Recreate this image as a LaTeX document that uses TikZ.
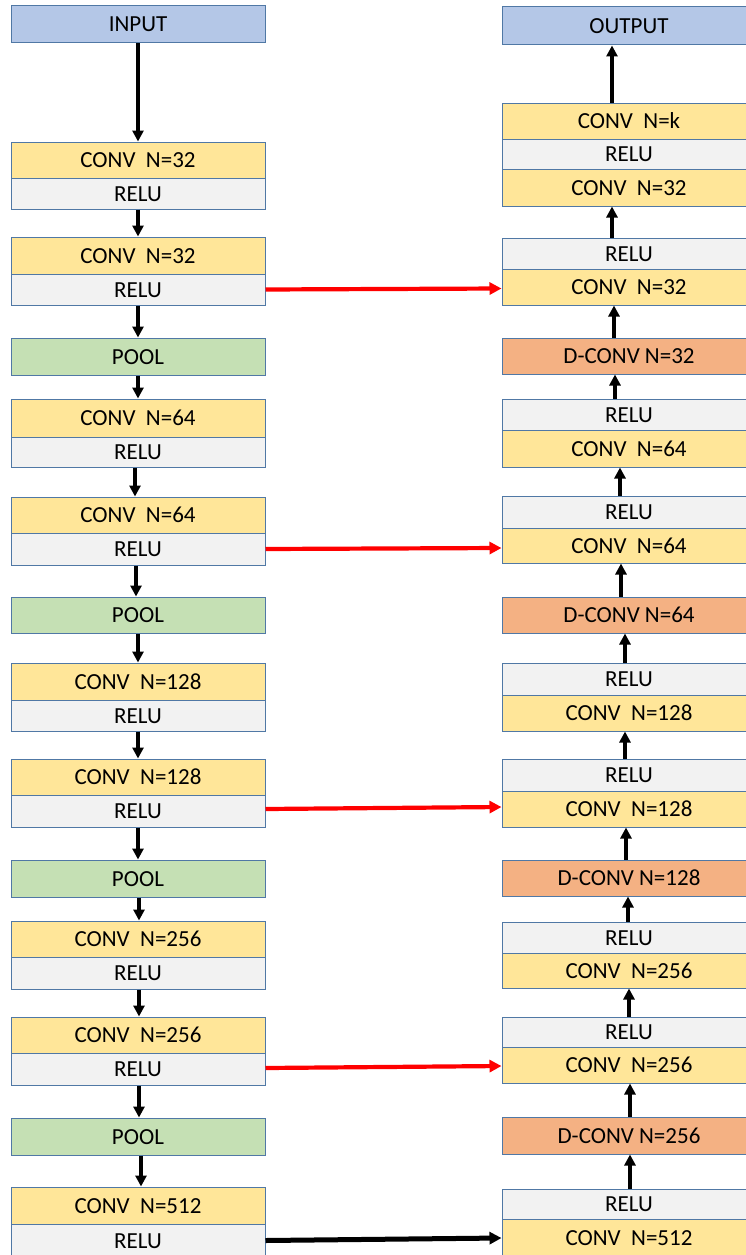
\documentclass[tikz,border=0pt]{standalone}
\usepackage{fontspec}
\setmainfont{Carlito}
\usetikzlibrary{arrows.meta}
\definecolor{bordc}{RGB}{80,120,165}
\definecolor{iofill}{RGB}{180,199,231}
\definecolor{convfill}{RGB}{255,230,153}
\definecolor{relufill}{RGB}{242,242,242}
\definecolor{poolfill}{RGB}{197,224,180}
\definecolor{dconvfill}{RGB}{244,177,131}
\tikzset{
  blk/.style={draw=bordc, line width=1pt, minimum width=254pt, inner sep=0pt,
    font=\fontsize{23}{27}\selectfont, text height=15pt, text depth=0pt},
  iobox/.style={blk, fill=iofill},
  convbox/.style={blk, fill=convfill},
  relubox/.style={blk, fill=relufill},
  poolbox/.style={blk, fill=poolfill},
  dconvbox/.style={blk, fill=dconvfill},
  flow/.style={line width=3.2pt, -{Triangle[width=11pt,length=11pt]}},
  skip/.style={line width=4.2pt, red, -{Triangle[width=12pt,length=12pt]}},
  bottomlink/.style={line width=5pt, -{Triangle[width=12pt,length=12pt]}},
}
\begin{document}
\begin{tikzpicture}[x=1pt,y=-1pt]
\clip (0,0) rectangle (746,1255);
% ---------------- left column ----------------
\node[iobox, minimum height=37pt] (in) at (138,24.5) {INPUT};
\node[convbox, minimum height=36pt] (l1c) at (138,160) {CONV\ \ N=32};
\node[relubox, minimum height=31pt] (l1r) at (138,193.5) {RELU};
\node[convbox, minimum height=37pt] (l2c) at (138,255.5) {CONV\ \ N=32};
\node[relubox, minimum height=31pt] (l2r) at (138,289.5) {RELU};
\node[poolbox, minimum height=37pt] (p1) at (138,356.5) {POOL};
\node[convbox, minimum height=38pt] (l3c) at (138,418) {CONV\ \ N=64};
\node[relubox, minimum height=30pt] (l3r) at (138,452) {RELU};
\node[convbox, minimum height=36pt] (l4c) at (138,515) {CONV\ \ N=64};
\node[relubox, minimum height=32pt] (l4r) at (138,549) {RELU};
\node[poolbox, minimum height=36pt] (p2) at (138,615) {POOL};
\node[convbox, minimum height=37pt] (l5c) at (138,681.5) {CONV\ \ N=128};
\node[relubox, minimum height=31pt] (l5r) at (138,715.5) {RELU};
\node[convbox, minimum height=36pt] (l6c) at (138,777) {CONV\ \ N=128};
\node[relubox, minimum height=32pt] (l6r) at (138,811) {RELU};
\node[poolbox, minimum height=37pt] (p3) at (138,878.5) {POOL};
\node[convbox, minimum height=36pt] (l7c) at (138,939) {CONV\ \ N=256};
\node[relubox, minimum height=32pt] (l7r) at (138,973) {RELU};
\node[convbox, minimum height=36pt] (l8c) at (138,1035) {CONV\ \ N=256};
\node[relubox, minimum height=32pt] (l8r) at (138,1069) {RELU};
\node[poolbox, minimum height=37pt] (p4) at (138,1136.5) {POOL};
\node[convbox, minimum height=37pt] (l9c) at (138,1205.5) {CONV\ \ N=512};
\node[relubox, minimum height=33pt] (l9r) at (138,1240.5) {RELU};
% ---------------- right column ----------------
\node[iobox, minimum height=38pt] (out) at (629,26) {OUTPUT};
\node[convbox, minimum height=36pt] (r1k) at (629,121) {CONV\ \ N=k};
\node[relubox, minimum height=30pt] (r1r) at (629,154) {RELU};
\node[convbox, minimum height=37pt] (r1c) at (629,187.5) {CONV\ \ N=32};
\node[relubox, minimum height=31pt] (r2r) at (629,253.5) {RELU};
\node[convbox, minimum height=36pt] (r2c) at (629,287) {CONV\ \ N=32};
\node[dconvbox, minimum height=36pt] (d1) at (629,356) {D-CONV N=32};
\node[relubox, minimum height=31pt] (r3r) at (629,414.5) {RELU};
\node[convbox, minimum height=37pt] (r3c) at (629,448.5) {CONV\ \ N=64};
\node[relubox, minimum height=32pt] (r4r) at (629,512) {RELU};
\node[convbox, minimum height=35pt] (r4c) at (629,545.5) {CONV\ \ N=64};
\node[dconvbox, minimum height=36pt] (d2) at (629,615) {D-CONV N=64};
\node[relubox, minimum height=32pt] (r5r) at (629,679) {RELU};
\node[convbox, minimum height=36pt] (r5c) at (629,713) {CONV\ \ N=128};
\node[relubox, minimum height=32pt] (r6r) at (629,775) {RELU};
\node[convbox, minimum height=36pt] (r6c) at (629,809) {CONV\ \ N=128};
\node[dconvbox, minimum height=36pt] (d3) at (629,878) {D-CONV N=128};
\node[relubox, minimum height=31pt] (r7r) at (629,937.5) {RELU};
\node[convbox, minimum height=35pt] (r7c) at (629,970.5) {CONV\ \ N=256};
\node[relubox, minimum height=30pt] (r8r) at (629,1032) {RELU};
\node[convbox, minimum height=36pt] (r8c) at (629,1065) {CONV\ \ N=256};
\node[dconvbox, minimum height=37pt] (d4) at (629,1135.5) {D-CONV N=256};
\node[relubox, minimum height=30pt] (r9r) at (629,1204) {RELU};
\node[convbox, minimum height=38pt] (r9c) at (629,1238) {CONV\ \ N=512};
% ---------------- left arrows (down) ----------------
\draw[flow] (in.south) -- (l1c.north);
\draw[flow] (l1r.south) -- (l2c.north);
\draw[flow] (l2r.south) -- (p1.north);
\draw[flow] (p1.south) -- (l3c.north);
\draw[flow] ([xshift=-3pt]l3r.south) -- ([xshift=-3pt]l4c.north);
\draw[flow] ([xshift=-2pt]l4r.south) -- ([xshift=-2pt]p2.north);
\draw[flow] (p2.south) -- (l5c.north);
\draw[flow] (l5r.south) -- (l6c.north);
\draw[flow] (l6r.south) -- (p3.north);
\draw[flow] ([xshift=1pt]p3.south) -- ([xshift=1pt]l7c.north);
\draw[flow] ([xshift=1pt]l7r.south) -- ([xshift=1pt]l8c.north);
\draw[flow] ([xshift=1pt]l8r.south) -- ([xshift=1pt]p4.north);
\draw[flow] ([xshift=3pt]p4.south) -- ([xshift=3pt]l9c.north);
% ---------------- right arrows (up) ----------------
\draw[flow] ([xshift=-17pt]r1k.north) -- ([xshift=-17pt]out.south);
\draw[flow] ([xshift=-17pt]r2r.north) -- ([xshift=-17pt]r1c.south);
\draw[flow] ([xshift=-15pt]d1.north) -- ([xshift=-15pt]r2c.south);
\draw[flow] ([xshift=-14pt]r3r.north) -- ([xshift=-14pt]d1.south);
\draw[flow] ([xshift=-9pt]r4r.north) -- ([xshift=-9pt]r3c.south);
\draw[flow] ([xshift=-8pt]d2.north) -- ([xshift=-8pt]r4c.south);
\draw[flow] ([xshift=-4pt]r5r.north) -- ([xshift=-4pt]d2.south);
\draw[flow] ([xshift=-4pt]r6r.north) -- ([xshift=-4pt]r5c.south);
\draw[flow] ([xshift=-3pt]d3.north) -- ([xshift=-3pt]r6c.south);
\draw[flow] ([xshift=-1pt]r7r.north) -- ([xshift=-1pt]d3.south);
\draw[flow] (r8r.north) -- (r7c.south);
\draw[flow] ([xshift=1pt]d4.north) -- ([xshift=1pt]r8c.south);
\draw[flow] ([xshift=1pt]r9r.north) -- ([xshift=1pt]d4.south);
% ---------------- skip connections ----------------
\draw[skip] (l2r.east) -- ([yshift=-1.5pt]r2c.west);
\draw[skip] (l4r.east) -- ([yshift=-2.5pt]r4c.west);
\draw[skip] ([yshift=2pt]l6r.east) -- ([yshift=2pt]r6c.west);
\draw[skip] ([yshift=1pt]l8r.east) -- ([yshift=-1pt]r8c.west);
\draw[bottomlink] (l9r.east) -- (r9c.west);
\end{tikzpicture}
\end{document}
